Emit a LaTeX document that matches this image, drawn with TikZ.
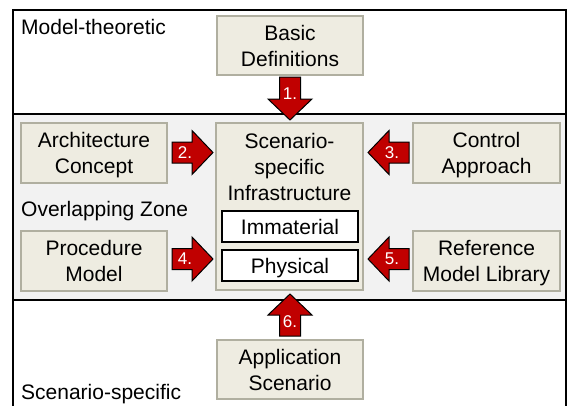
\documentclass[tikz,border=0pt]{standalone}
\usepackage{fontspec}
\setmainfont{Liberation Sans}
\usetikzlibrary{calc}
\definecolor{boxfill}{RGB}{238,236,225}
\definecolor{boxline}{RGB}{176,175,160}
\definecolor{bandfill}{RGB}{242,242,242}
\definecolor{arrowred}{RGB}{192,0,0}
\newcommand\blockarrow[5]{%
  \begin{scope}[shift={#1}, rotate=#2]
    \draw[barrow] (0,-10.5) -- ({#3-21},-10.5) -- ({#3-21},-22) -- (#3,0)
      -- ({#3-21},22) -- ({#3-21},10.5) -- (0,10.5) -- cycle;
    \node[numlabel] at (#5,0) {#4};
  \end{scope}}
\tikzset{
  box/.style={draw=boxline, fill=boxfill, line width=1.5pt, align=center,
    font=\fontsize{21}{26}\selectfont, text depth=0pt, inner sep=0pt, outer sep=0pt,
    minimum width=146pt, minimum height=60pt},
  inbox/.style={draw=black, fill=white, line width=1.5pt, align=center,
    font=\fontsize{21}{26}\selectfont, text depth=0pt, inner sep=0pt, outer sep=0pt,
    minimum width=136pt, minimum height=31pt},
  zonelabel/.style={anchor=base west, inner sep=0pt, font=\fontsize{21}{26}\selectfont},
  barrow/.style={draw=black, fill=arrowred, line width=1pt, line join=miter},
  numlabel/.style={font=\fontsize{17}{20}\selectfont, text=white, inner sep=0pt}
}
\begin{document}
\begin{tikzpicture}[x=1pt,y=-1pt]
\useasboundingbox (0,0) rectangle (567,405);
% zones
\fill[white] (0,0) rectangle (567,405);
\fill[bandfill] (13,114) rectangle (566,300);
\draw[line width=1.5pt] (13,114) -- (566,114);
\draw[line width=1.5pt] (13,300) -- (566,300);
\draw[line width=2pt] (13,410) -- (13,10) -- (566,10) -- (566,410);
% zone labels
\node[zonelabel] (mt) at (21,34) {Model-theoretic};
\node[zonelabel] (oz) at (21,216) {Overlapping Zone};
\node[zonelabel] (ss) at (21,399) {Scenario-specific};
% boxes
\node[box, minimum height=59pt] (basic) at (290,45.5) {Basic\\Definitions};
\node[box] (arch) at (94,153) {Architecture\\Concept};
\node[box] (proc) at (94,261) {Procedure\\Model};
\node[box, minimum width=147pt] (ctrl) at (486.5,153) {Control\\Approach};
\node[box, minimum width=147pt] (ref) at (486.5,261) {Reference\\Model Library};
\node[box, minimum width=147pt, minimum height=167pt] (ssi) at (289.5,206.5) {};
\node[anchor=north, align=center, inner sep=0pt, font=\fontsize{21}{26}\selectfont] (ssitext) at (289.5,133) {Scenario-\\specific\\Infrastructure};
\node[inbox] (immat) at (290,226.5) {Immaterial};
\node[inbox] (phys) at (290,265.5) {Physical};
\node[box, minimum height=59pt] (app) at (290,369.5) {Application\\Scenario};
% block arrows
\blockarrow{($(basic.south)+(0,2)$)}{-90}{43}{1.}{17}
\blockarrow{($(arch.east)+(5,-0.5)$)}{0}{41}{2.}{13}
\blockarrow{($(ctrl.west)+(-4,-0.5)$)}{180}{41}{3.}{17}
\blockarrow{($(proc.east)+(5,-2)$)}{0}{41}{4.}{13}
\blockarrow{($(ref.west)+(-4,-2)$)}{180}{41}{5.}{17}
\blockarrow{($(app.north)+(0,-4)$)}{90}{42}{6.}{14.5}
\end{tikzpicture}
\end{document}
